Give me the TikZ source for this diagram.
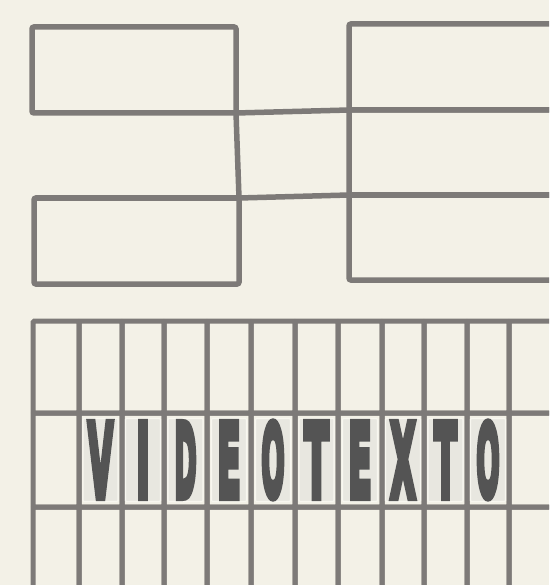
\documentclass[tikz,border=0pt]{standalone}
\usepackage{fontspec}
\setmainfont{DejaVu Sans}
\newfontfamily\letfont{DejaVu Sans Condensed}[BoldFeatures={FakeBold=8}]
\definecolor{bg}{RGB}{243,241,231}
\definecolor{linec}{RGB}{125,122,120}
\definecolor{letc}{RGB}{84,84,84}
\definecolor{cellin}{RGB}{232,231,224}
\definecolor{cellrim}{RGB}{248,247,240}
\begin{document}
\begin{tikzpicture}[x=1pt,y=-1pt,
  box/.style={draw=linec,line width=5.5pt,rounded corners=2pt,inner sep=0pt,outer sep=0pt,anchor=north west},
  cell/.style={draw=linec,line width=5pt,rounded corners=1.5pt,inner sep=0pt,outer sep=0pt,anchor=north west},
  inner/.style={fill=cellin,draw=cellrim,line width=1.2pt,rounded corners=1pt,inner sep=0pt},
  letter/.style={text=letc,inner sep=0pt,font=\letfont\bfseries},
  link/.style={draw=linec,line width=5.5pt,line cap=round}]
\useasboundingbox (0,0) rectangle (549,585);
\fill[bg] (0,0) rectangle (549,585);
\clip (0,0) rectangle (549,585);
% top part
\node[box,minimum width=204pt,minimum height=86pt] (LT) at (32,27) {};
\node[box,minimum width=205pt,minimum height=86pt] (LB) at (34,198) {};
\node[box,minimum width=260pt,minimum height=86pt] (R1) at (349,24) {};
\node[box,minimum width=260pt,minimum height=85pt] (R2) at (349,110) {};
\node[box,minimum width=260pt,minimum height=85pt] (R3) at (349,195) {};
\draw[link] (LT.south east) -- (R2.north west);
\draw[link] (LB.north east) -- (R3.north west);
\draw[link] (LT.south east) -- (LB.north east);
% grid
\foreach \r/\ya/\yb in {1/321/413,2/413/507,3/507/600}{
  \foreach \k/\xa/\xb in {1/33/79,2/79/122,3/122/164,4/164/207,5/207/251,6/251/295,7/295/338,8/338/382,9/382/424,10/424/467,11/467/509,12/509/552}{
    \node[cell,minimum width={(\xb-\xa)*1pt},minimum height={(\yb-\ya)*1pt}] (c-\r-\k) at (\xa,\ya) {};
  }
}
\foreach \k/\ch/\w in {2/V/25,3/I/13,4/D/22,5/E/23,6/O/23,7/T/24,8/E/23,9/X/25,10/T/22,11/O/23}{
  \node[inner,minimum width=35pt,minimum height=83pt] (in-\k) at (c-2-\k.center) {};
  \node[letter] (t-\k) at (c-2-\k.center) {\resizebox{\w pt}{74pt}{\ch}};
}
\end{tikzpicture}
\end{document}
